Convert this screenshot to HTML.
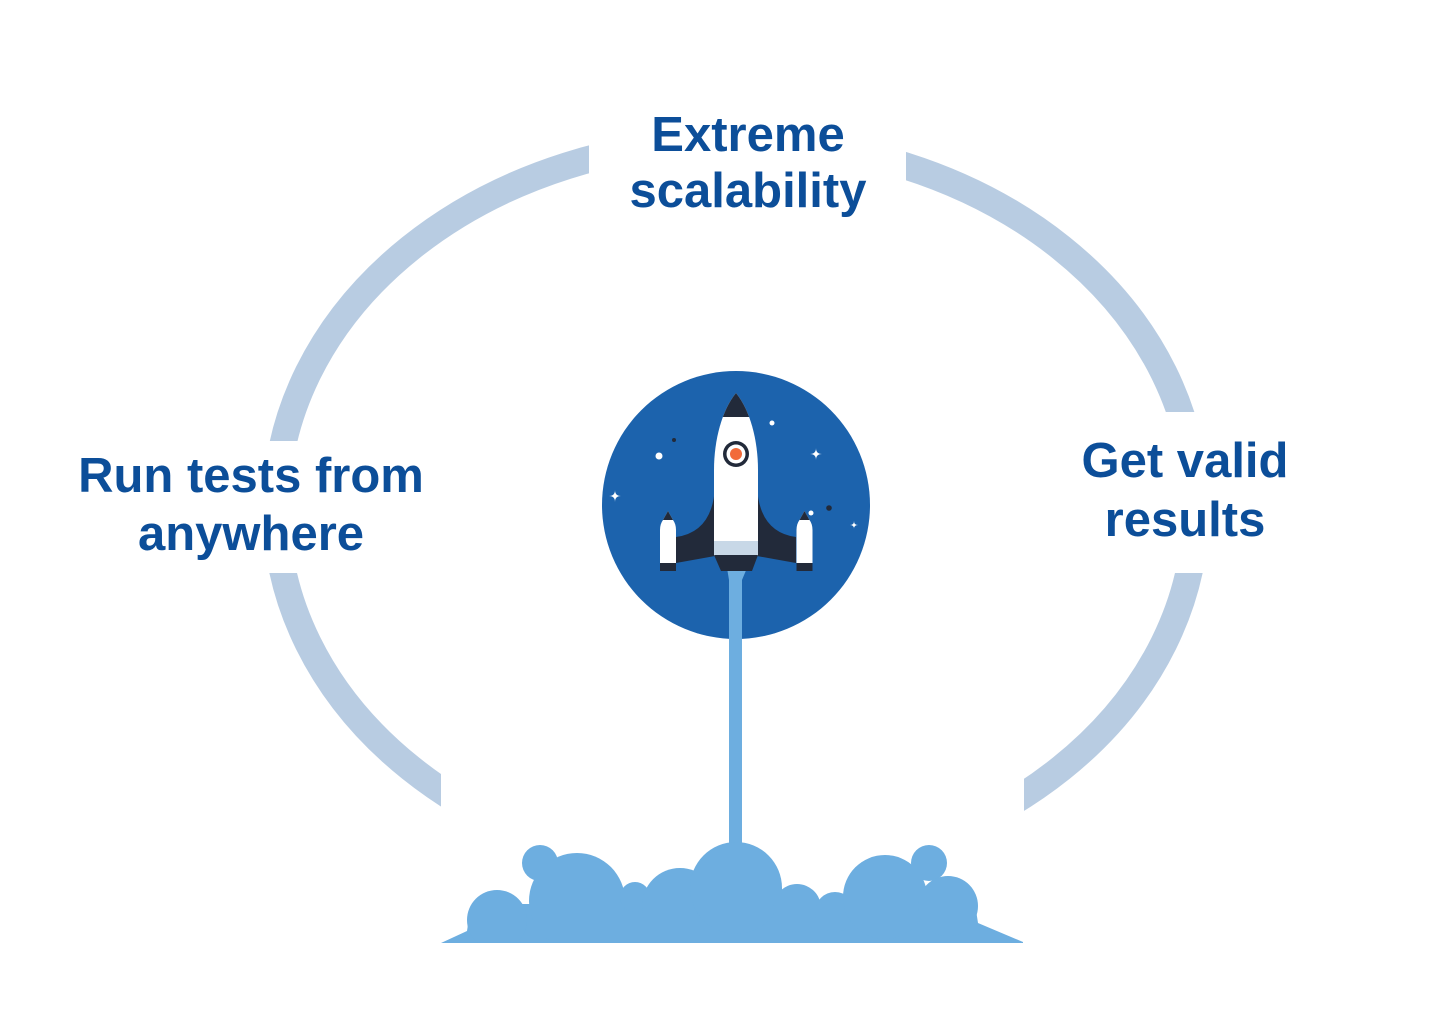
<!DOCTYPE html>
<html>
<head>
<meta charset="utf-8">
<style>
  html, body { margin: 0; padding: 0; background: #ffffff; }
  body { width: 1450px; height: 1030px; overflow: hidden; }
  svg { display: block; }
  .t { font-family: "Liberation Sans", "DejaVu Sans", sans-serif; font-weight: bold; font-size: 49px; fill: #0c4e99; }
</style>
</head>
<body>
<svg width="1450" height="1030" viewBox="0 0 1450 1030" xmlns="http://www.w3.org/2000/svg">
  <defs>
    <clipPath id="bodyclip">
      <path d="M736,393 C722,410 714,440 714,470 L714,556 L758,556 L758,470 C758,440 750,410 736,393 Z"/>
    </clipPath>
    <clipPath id="cloudclip">
      <rect x="400" y="800" width="700" height="143"/>
    </clipPath>
  </defs>
  <rect x="0" y="0" width="1450" height="1030" fill="#ffffff"/>

  <!-- Ellipse ring -->
  <ellipse cx="736" cy="508" rx="460" ry="368" fill="none" stroke="#b8cce2" stroke-width="27"/>

  <!-- Gaps in the ring -->
  <rect x="589" y="0" width="317" height="300" fill="#ffffff"/>
  <rect x="200" y="441" width="160" height="132" fill="#ffffff"/>
  <rect x="1100" y="412" width="170" height="161" fill="#ffffff"/>
  <rect x="441" y="600" width="583" height="430" fill="#ffffff"/>

  <!-- Labels -->
  <text class="t" x="748" y="151" text-anchor="middle">Extreme</text>
  <text class="t" x="748" y="207" text-anchor="middle">scalability</text>

  <text class="t" x="251" y="492" text-anchor="middle">Run tests from</text>
  <text class="t" x="251" y="550" text-anchor="middle">anywhere</text>

  <text class="t" x="1185" y="477" text-anchor="middle">Get valid</text>
  <text class="t" x="1185" y="536" text-anchor="middle">results</text>

  <!-- Rocket circle -->
  <circle cx="736" cy="505" r="134" fill="#1c63ad"/>

  <!-- Stars -->
  <circle cx="659" cy="456" r="3.5" fill="#ffffff"/>
  <circle cx="674" cy="440" r="2" fill="#222a3a"/>
  <circle cx="772" cy="423" r="2.5" fill="#ffffff"/>
  <circle cx="811" cy="513" r="2.5" fill="#ffffff"/>
  <circle cx="829" cy="508" r="2.8" fill="#222a3a"/>
  <path d="M816,448 Q816,454 822,454 Q816,454 816,460 Q816,454 810,454 Q816,454 816,448 Z" fill="#ffffff"/>
  <path d="M615,490 Q615,496 621,496 Q615,496 615,502 Q615,496 609,496 Q615,496 615,490 Z" fill="#ffffff"/>
  <path d="M854,521 Q854,525 858,525 Q854,525 854,529 Q854,525 850,525 Q854,525 854,521 Z" fill="#ffffff"/>

  <!-- Exhaust stream -->
  <path d="M727,568 L747,568 L742,580 L742,850 L729,850 L729,580 Z" fill="#6daee0"/>

  <!-- Wings -->
  <path d="M715,486 Q713,532 676,537 L676,563 L715,556 Z" fill="#222a3a"/>
  <path d="M757,486 Q759,532 796,537 L796,563 L757,556 Z" fill="#222a3a"/>

  <!-- Boosters -->
  <path d="M668,511 L663,520 Q660,524 660,530 L660,563 L676,563 L676,530 Q676,524 673,520 Z" fill="#ffffff"/>
  <path d="M668,511 L663,520 L673,520 Z" fill="#222a3a"/>
  <rect x="660" y="563" width="16" height="8" fill="#222a3a"/>

  <path d="M804.5,511 L799.5,520 Q796.5,524 796.5,530 L796.5,563 L812.5,563 L812.5,530 Q812.5,524 809.5,520 Z" fill="#ffffff"/>
  <path d="M804.5,511 L799.5,520 L809.5,520 Z" fill="#222a3a"/>
  <rect x="796.5" y="563" width="16" height="8" fill="#222a3a"/>

  <!-- Body -->
  <path d="M736,393 C722,410 714,440 714,470 L714,556 L758,556 L758,470 C758,440 750,410 736,393 Z" fill="#ffffff"/>
  <g clip-path="url(#bodyclip)">
    <rect x="700" y="385" width="72" height="32" fill="#222a3a"/>
    <rect x="700" y="541" width="72" height="15" fill="#c8d8e7"/>
  </g>

  <!-- Nozzle -->
  <path d="M714,555 L758,555 L752,571 L721,571 Z" fill="#222a3a"/>

  <!-- Window -->
  <circle cx="736" cy="454" r="13" fill="#222a3a"/>
  <circle cx="736" cy="454" r="9.5" fill="#ffffff"/>
  <circle cx="736" cy="454" r="6" fill="#f26b3a"/>

  <!-- Cloud -->
  <g fill="#6daee0" clip-path="url(#cloudclip)">
    <path d="M441,943 L467,931 L469,918 L480,906 L490,904 L960,904 L976,910 L978,923 L1023,942 L1023,943 Z"/>
    <circle cx="497" cy="920" r="30"/>
    <circle cx="540" cy="863" r="18"/>
    <circle cx="577" cy="901" r="48"/>
    <circle cx="635" cy="897" r="15"/>
    <circle cx="680" cy="906" r="38"/>
    <circle cx="736" cy="888" r="46"/>
    <circle cx="797" cy="908" r="24"/>
    <circle cx="835" cy="912" r="20"/>
    <circle cx="885" cy="897" r="42"/>
    <circle cx="929" cy="863" r="18"/>
    <circle cx="948" cy="906" r="30"/>
  </g>
</svg>
</body>
</html>
